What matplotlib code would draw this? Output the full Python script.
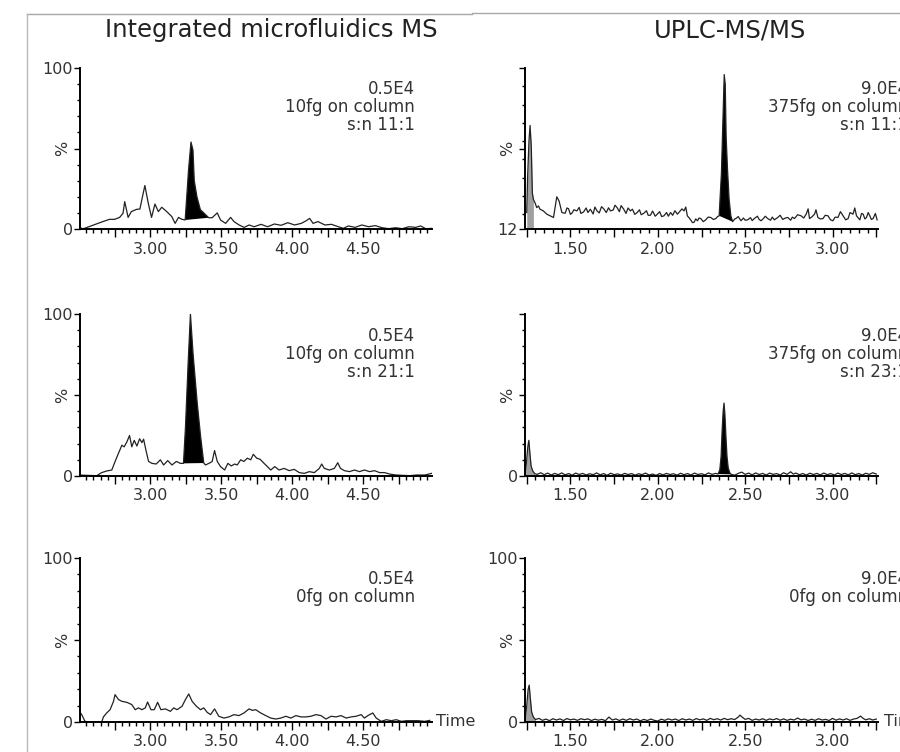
import matplotlib
matplotlib.use("Agg")
import matplotlib.pyplot as plt
from matplotlib.ticker import MultipleLocator, FixedLocator, FuncFormatter
from matplotlib.lines import Line2D

plt.rcParams['font.family'] = ['DejaVu Sans']

# ---- Integrated microfluidics MS (time in min, intensity in %) ----
mf_a_time = [2.500, 2.524, 2.666, 2.713, 2.749, 2.784, 2.808, 2.820, 2.844, 2.867, 2.903, 2.927,
             2.945, 2.962, 2.986, 3.009, 3.033, 3.057, 3.081, 3.116, 3.152, 3.175, 3.199, 3.223,
             3.246, 3.270, 3.287, 3.301, 3.310, 3.329, 3.353, 3.377, 3.412, 3.436, 3.472, 3.495,
             3.531, 3.566, 3.590, 3.626, 3.661, 3.697, 3.732, 3.780, 3.827, 3.874, 3.922, 3.969,
             4.017, 4.064, 4.100, 4.123, 4.147, 4.182, 4.230, 4.277, 4.325, 4.360, 4.396, 4.443,
             4.491, 4.538, 4.585, 4.633, 4.680, 4.728, 4.775, 4.822, 4.870, 4.905, 4.941, 4.988]
mf_a_int = [1.4, 0.0, 4.6, 6.0, 6.0, 7.2, 9.7, 17.0, 7.2, 10.8, 12.2, 12.4,
            20.0, 27.0, 16.0, 7.2, 15.5, 10.8, 13.5, 10.8, 7.7, 3.5, 7.2, 6.0,
            5.6, 37.0, 54.0, 49.0, 30.0, 20.0, 12.0, 10.0, 7.0, 7.0, 10.0, 5.6,
            3.5, 7.2, 4.6, 2.5, 1.0, 2.5, 1.4, 2.9, 1.4, 3.1, 2.3, 3.9,
            2.5, 3.5, 5.2, 6.6, 3.5, 4.6, 2.5, 2.9, 1.4, 0.4, 1.9, 1.0,
            2.5, 1.4, 2.1, 0.8, 0.2, 0.8, 0.2, 1.4, 1.0, 1.9, 0.2, 0.4]

mf_b_time = [2.500, 2.552, 2.623, 2.658, 2.693, 2.729, 2.752, 2.776, 2.800, 2.816, 2.835, 2.854,
             2.870, 2.887, 2.906, 2.925, 2.941, 2.953, 2.972, 2.988, 3.012, 3.042, 3.071, 3.094,
             3.123, 3.153, 3.184, 3.212, 3.234, 3.248, 3.267, 3.283, 3.302, 3.331, 3.354, 3.377,
             3.389, 3.413, 3.436, 3.453, 3.472, 3.495, 3.524, 3.547, 3.571, 3.594, 3.613, 3.637,
             3.660, 3.684, 3.708, 3.726, 3.750, 3.774, 3.802, 3.825, 3.849, 3.877, 3.908, 3.943,
             3.979, 4.014, 4.050, 4.085, 4.120, 4.156, 4.191, 4.208, 4.226, 4.262, 4.297, 4.321,
             4.340, 4.368, 4.403, 4.439, 4.474, 4.509, 4.545, 4.580, 4.616, 4.651, 4.686, 4.733,
             4.781, 4.828, 4.875, 4.934, 4.981]
mf_b_int = [0.6, 0.4, 0.2, 2.1, 3.1, 3.7, 8.9, 14.0, 19.0, 18.0, 21.0, 25.0,
            18.0, 22.0, 18.5, 23.0, 20.6, 22.7, 15.0, 9.0, 7.8, 7.4, 10.0, 6.8,
            9.5, 6.8, 9.0, 7.8, 7.8, 30.0, 70.0, 100.0, 75.0, 45.0, 25.0, 8.0,
            6.8, 7.8, 8.9, 15.7, 9.0, 5.8, 3.7, 7.8, 6.2, 7.4, 6.8, 10.0,
            9.0, 11.0, 10.0, 13.4, 11.0, 10.3, 7.8, 5.8, 3.7, 5.8, 3.7, 4.7,
            3.3, 4.1, 2.1, 1.6, 2.7, 2.1, 4.7, 7.4, 4.7, 3.7, 4.7, 8.2,
            4.7, 3.3, 2.7, 3.7, 2.7, 3.7, 2.7, 3.3, 2.1, 2.1, 1.2, 0.6,
            0.4, 0.2, 0.6, 0.6, 1.6]

mf_blank_time = [2.500, 2.517, 2.540, 2.575, 2.658, 2.670, 2.693, 2.717, 2.741, 2.752, 2.776, 2.800,
                 2.835, 2.870, 2.894, 2.917, 2.941, 2.965, 2.981, 3.005, 3.028, 3.052, 3.075, 3.106,
                 3.142, 3.165, 3.189, 3.224, 3.248, 3.271, 3.295, 3.325, 3.354, 3.377, 3.401, 3.425,
                 3.453, 3.483, 3.519, 3.554, 3.590, 3.625, 3.660, 3.696, 3.719, 3.743, 3.778, 3.814,
                 3.849, 3.884, 3.920, 3.955, 3.991, 4.026, 4.061, 4.097, 4.132, 4.167, 4.203, 4.238,
                 4.274, 4.309, 4.344, 4.380, 4.415, 4.450, 4.486, 4.509, 4.533, 4.568, 4.592, 4.627,
                 4.663, 4.698, 4.733, 4.769, 4.804, 4.840, 4.887, 4.934, 4.969]
mf_blank_int = [6.5, 4.5, 0.4, 0.0, 0.0, 3.1, 5.5, 7.5, 12.6, 16.7, 13.7, 12.6,
                12.0, 10.6, 7.5, 8.6, 7.5, 8.6, 12.2, 7.5, 7.5, 12.0, 7.5, 8.0,
                6.5, 8.6, 7.5, 9.6, 13.7, 17.1, 12.6, 9.6, 7.5, 8.6, 5.9, 4.5,
                8.0, 3.5, 2.4, 3.1, 4.5, 3.9, 5.5, 8.0, 7.1, 7.5, 5.5, 3.9,
                2.4, 1.8, 2.4, 3.5, 2.4, 3.9, 3.1, 3.1, 3.5, 4.5, 3.9, 1.8,
                3.5, 3.1, 3.9, 2.4, 3.1, 3.5, 4.5, 2.4, 3.9, 5.5, 2.4, 0.4,
                1.4, 0.8, 1.4, 0.4, 0.8, 0.8, 0.8, 0.4, 1.0]

# ---- UPLC-MS/MS ----
uplc_a_time = [1.250, 1.255, 1.263, 1.269, 1.276, 1.282, 1.288, 1.297, 1.307, 1.317, 1.326, 1.345,
               1.365, 1.384, 1.403, 1.422, 1.435, 1.451, 1.470, 1.480, 1.489, 1.500, 1.508, 1.520,
               1.537, 1.550, 1.560, 1.575, 1.590, 1.600, 1.614, 1.630, 1.640, 1.652, 1.665, 1.678,
               1.690, 1.705, 1.718, 1.729, 1.745, 1.755, 1.767, 1.780, 1.790, 1.805, 1.818, 1.830,
               1.843, 1.855, 1.868, 1.882, 1.895, 1.905, 1.920, 1.935, 1.945, 1.958, 1.970, 1.985,
               1.997, 2.010, 2.022, 2.035, 2.050, 2.060, 2.073, 2.085, 2.098, 2.112, 2.125, 2.138,
               2.150, 2.160, 2.169, 2.180, 2.188, 2.198, 2.207, 2.217, 2.227, 2.236, 2.246, 2.260,
               2.274, 2.288, 2.303, 2.318, 2.332, 2.342, 2.351, 2.364, 2.374, 2.380, 2.386, 2.391,
               2.399, 2.408, 2.418, 2.428, 2.440, 2.447, 2.460, 2.476, 2.490, 2.500, 2.514, 2.530,
               2.540, 2.552, 2.570, 2.580, 2.591, 2.605, 2.615, 2.629, 2.645, 2.655, 2.667, 2.685,
               2.700, 2.715, 2.730, 2.744, 2.760, 2.770, 2.782, 2.800, 2.820, 2.835, 2.849, 2.860,
               2.868, 2.880, 2.897, 2.905, 2.916, 2.930, 2.945, 2.958, 2.974, 2.988, 3.002, 3.015,
               3.031, 3.045, 3.060, 3.075, 3.089, 3.100, 3.117, 3.127, 3.137, 3.147, 3.156, 3.166,
               3.175, 3.185, 3.194, 3.204, 3.213, 3.222, 3.232, 3.245, 3.255]
uplc_a_int = [21.0, 40.7, 60.5, 68.6, 56.9, 31.7, 28.2, 26.4, 23.7, 24.6, 22.8, 21.9,
              20.1, 19.2, 18.3, 29.6, 27.3, 21.0, 20.6, 23.5, 23.1, 20.0, 20.6, 22.5,
              21.9, 23.8, 20.5, 21.3, 23.5, 21.0, 22.8, 20.2, 24.0, 21.9, 20.8, 24.2,
              23.1, 21.0, 23.6, 21.9, 22.4, 25.0, 23.7, 21.5, 24.8, 22.8, 20.5, 23.5,
              21.9, 22.8, 20.0, 21.0, 22.5, 19.8, 20.6, 22.0, 19.5, 19.5, 21.8, 19.0,
              20.1, 21.5, 18.8, 19.2, 21.0, 19.0, 21.0, 19.5, 22.0, 20.1, 21.5, 23.0,
              21.9, 24.0, 19.2, 18.0, 17.0, 15.5, 15.6, 17.5, 16.5, 18.0, 17.7, 16.0,
              17.0, 18.5, 18.3, 17.2, 17.7, 18.8, 19.2, 42.5, 76.6, 96.4, 91.0, 62.3,
              44.3, 28.2, 19.2, 16.0, 17.5, 17.7, 18.8, 16.5, 18.0, 16.8, 17.0, 18.2,
              16.6, 17.7, 19.0, 17.2, 16.5, 17.8, 19.0, 17.7, 16.8, 18.5, 17.0, 18.2,
              19.5, 17.2, 18.0, 18.3, 16.8, 18.5, 17.7, 19.8, 19.2, 18.0, 20.1, 23.0,
              17.7, 18.5, 20.1, 22.5, 18.3, 17.5, 17.7, 19.5, 19.2, 17.0, 16.5, 18.5,
              18.3, 21.5, 19.2, 17.0, 17.7, 21.0, 20.1, 23.5, 19.2, 18.0, 17.0, 20.5,
              20.1, 17.5, 18.3, 21.0, 19.2, 17.2, 17.7, 20.5, 17.0]

uplc_b_time = [1.240, 1.248, 1.256, 1.262, 1.268, 1.275, 1.285, 1.295, 1.310, 1.330, 1.350, 1.370,
               1.390, 1.410, 1.430, 1.450, 1.470, 1.490, 1.510, 1.530, 1.550, 1.570, 1.590, 1.610,
               1.630, 1.650, 1.670, 1.690, 1.710, 1.730, 1.750, 1.770, 1.790, 1.810, 1.830, 1.850,
               1.870, 1.890, 1.910, 1.930, 1.950, 1.970, 1.990, 2.010, 2.030, 2.050, 2.070, 2.090,
               2.110, 2.130, 2.150, 2.170, 2.190, 2.210, 2.230, 2.250, 2.270, 2.290, 2.310, 2.330,
               2.345, 2.355, 2.362, 2.368, 2.374, 2.379, 2.384, 2.390, 2.396, 2.403, 2.412, 2.420,
               2.440, 2.460, 2.480, 2.500, 2.520, 2.540, 2.560, 2.580, 2.600, 2.620, 2.640, 2.660,
               2.680, 2.700, 2.720, 2.740, 2.760, 2.775, 2.790, 2.810, 2.830, 2.850, 2.870, 2.890,
               2.910, 2.930, 2.950, 2.970, 2.990, 3.010, 3.030, 3.050, 3.070, 3.090, 3.110, 3.130,
               3.150, 3.170, 3.190, 3.210, 3.230, 3.250]
uplc_b_int = [1.0, 8.0, 18.0, 22.0, 14.0, 6.0, 3.0, 1.5, 1.0, 2.0, 0.8, 1.8,
              0.6, 1.6, 0.8, 1.9, 0.7, 1.5, 0.5, 1.8, 0.9, 1.6, 0.6, 1.4,
              0.8, 1.9, 0.7, 1.5, 0.4, 1.7, 0.8, 1.3, 0.6, 1.6, 0.9, 1.5,
              0.5, 1.4, 0.8, 1.8, 0.6, 1.2, 0.4, 1.5, 0.7, 1.6, 0.9, 1.4,
              0.5, 1.7, 0.8, 1.5, 0.6, 1.8, 0.9, 1.4, 0.7, 1.9, 1.0, 1.6,
              1.2, 4.0, 12.0, 28.0, 40.0, 45.0, 38.0, 24.0, 12.0, 5.0, 2.0, 1.0,
              0.5, 1.6, 2.4, 1.0, 1.8, 0.7, 1.9, 0.9, 1.6, 0.6, 1.8, 1.0,
              1.5, 0.6, 2.0, 1.0, 2.6, 1.2, 1.8, 0.8, 1.5, 0.6, 1.7, 0.9,
              1.6, 0.7, 1.8, 0.8, 1.5, 0.6, 1.8, 0.9, 1.6, 0.7, 1.9, 0.8,
              1.5, 0.6, 1.7, 1.0, 2.0, 1.2]

uplc_blank_time = [1.240, 1.250, 1.258, 1.264, 1.270, 1.278, 1.288, 1.300, 1.320, 1.340, 1.360, 1.380,
                   1.400, 1.420, 1.440, 1.460, 1.480, 1.500, 1.520, 1.540, 1.560, 1.580, 1.600, 1.620,
                   1.640, 1.660, 1.680, 1.700, 1.720, 1.740, 1.760, 1.780, 1.800, 1.820, 1.840, 1.860,
                   1.880, 1.900, 1.920, 1.940, 1.960, 1.980, 2.000, 2.020, 2.040, 2.060, 2.080, 2.100,
                   2.120, 2.140, 2.160, 2.180, 2.200, 2.220, 2.240, 2.260, 2.280, 2.300, 2.320, 2.340,
                   2.360, 2.380, 2.400, 2.420, 2.440, 2.460, 2.470, 2.485, 2.500, 2.520, 2.540, 2.560,
                   2.580, 2.600, 2.620, 2.640, 2.660, 2.680, 2.700, 2.720, 2.740, 2.760, 2.780, 2.800,
                   2.820, 2.840, 2.860, 2.880, 2.900, 2.920, 2.940, 2.960, 2.980, 3.000, 3.020, 3.040,
                   3.060, 3.080, 3.100, 3.120, 3.140, 3.160, 3.175, 3.190, 3.210, 3.230, 3.250]
uplc_blank_int = [1.0, 10.0, 20.0, 22.5, 15.0, 6.0, 3.0, 1.5, 2.2, 1.0, 1.8, 0.8,
                  2.0, 1.2, 1.9, 0.9, 2.1, 1.3, 1.8, 1.0, 2.0, 1.4, 1.9, 0.9,
                  1.7, 1.1, 1.6, 0.8, 3.0, 1.2, 1.9, 0.9, 1.8, 1.0, 2.0, 1.2,
                  1.8, 0.7, 1.6, 0.9, 1.8, 1.0, 0.6, 1.7, 1.0, 1.9, 1.2, 1.8,
                  0.9, 2.0, 1.2, 1.8, 1.0, 2.1, 1.3, 1.9, 1.0, 2.2, 1.4, 2.0,
                  1.2, 2.2, 1.4, 2.0, 1.5, 3.0, 4.2, 2.8, 1.6, 2.2, 1.0, 1.8,
                  1.2, 2.0, 1.0, 1.9, 1.3, 2.1, 1.1, 1.9, 1.0, 1.7, 1.2, 2.4,
                  1.3, 1.8, 0.9, 1.7, 1.0, 2.0, 1.2, 1.6, 0.9, 2.2, 1.1, 1.9,
                  1.2, 2.0, 1.0, 1.8, 2.2, 3.6, 2.2, 1.3, 2.0, 1.2, 1.8]

W, H = 900, 752
fig = plt.figure(figsize=(W / 100, H / 100), dpi=100)
fig.patch.set_facecolor('white')

TXT = '#333333'
LINE = '#222222'


def px_rect(x0, y0, x1, y1):
    return [x0 / W, 1 - y1 / H, (x1 - x0) / W, (y1 - y0) / H]


def x_label(v, pos):
    if abs(v * 2 - round(v * 2)) < 1e-6:
        return f'{v:.2f}'
    return ''


def panel(rect, t, y, xlim, ylim, ylabels, note, note_x, peak=None, spike=None):
    ax = fig.add_axes(rect)
    if spike:
        seg = [(a, b) for a, b in zip(t, y) if spike[0] <= a <= spike[1]]
        ax.fill_between([s[0] for s in seg], [s[1] for s in seg], ylim[0], color='#a0a0a0', lw=0)
    if peak:
        seg = [(a, b) for a, b in zip(t, y) if peak[0] <= a <= peak[1]]
        ax.fill([s[0] for s in seg], [s[1] for s in seg], color='black', lw=0)
    ax.plot(t, y, color=LINE, lw=0.9)
    ax.set_xlim(*xlim)
    ax.set_ylim(*ylim)
    for s in ['top', 'right']:
        ax.spines[s].set_visible(False)
    for s in ['left', 'bottom']:
        ax.spines[s].set_linewidth(1.4)
    ax.xaxis.set_major_locator(MultipleLocator(0.25))
    ax.xaxis.set_minor_locator(MultipleLocator(0.05))
    ax.xaxis.set_major_formatter(FuncFormatter(x_label))
    yt = [ylim[0], (ylim[0] + ylim[1]) / 2, ylim[1]]
    ax.yaxis.set_major_locator(FixedLocator(yt))
    ax.set_yticklabels(ylabels)
    ax.yaxis.set_minor_locator(FixedLocator([v for v in range(10, 100, 10) if v > ylim[0]]))
    ax.tick_params(axis='x', which='major', length=6, width=1, pad=3, labelsize=11.5, labelcolor=TXT)
    ax.tick_params(axis='x', which='minor', length=3, width=1)
    ax.tick_params(axis='y', which='major', length=4, width=1, pad=1, labelsize=11.5, labelcolor=TXT)
    ax.tick_params(axis='y', which='minor', length=2, width=1)
    ax.text(-0.05, 0.5, '%', transform=ax.transAxes, rotation=90, ha='center', va='center',
            fontsize=11.5, color=TXT)
    ax.annotate(note, xy=(note_x, 1.0), xycoords='axes fraction', xytext=(0, -9),
                textcoords='offset points', ha='right', va='top', fontsize=12,
                color=TXT, linespacing=1.0, annotation_clip=False)
    return ax


left_x = (80, 432)
right_x = (525, 878)
rows = [(68, 229), (314, 476), (558, 722)]
lx = (2.505, 4.985)
rx = (1.24, 3.26)

panel(px_rect(left_x[0], rows[0][0], left_x[1], rows[0][1]), mf_a_time, mf_a_int, lx, (0, 100),
      ['0', '', '100'], '0.5E4\n10fg on column\ns:n 11:1', 0.952, peak=(3.24, 3.42))
panel(px_rect(left_x[0], rows[1][0], left_x[1], rows[1][1]), mf_b_time, mf_b_int, lx, (0, 100),
      ['0', '', '100'], '0.5E4\n10fg on column\ns:n 21:1', 0.952, peak=(3.23, 3.38))
panel(px_rect(left_x[0], rows[2][0], left_x[1], rows[2][1]), mf_blank_time, mf_blank_int, lx, (0, 100),
      ['0', '', '100'], '0.5E4\n0fg on column', 0.952)

panel(px_rect(right_x[0], rows[0][0], right_x[1], rows[0][1]), uplc_a_time, uplc_a_int, rx, (12, 100),
      ['12', '', ''], '9.0E4\n375fg on column\ns:n 11:1', 1.085, peak=(2.35, 2.43), spike=(1.25, 1.29))
panel(px_rect(right_x[0], rows[1][0], right_x[1], rows[1][1]), uplc_b_time, uplc_b_int, rx, (0, 100),
      ['0', '', ''], '9.0E4\n375fg on column\ns:n 23:1', 1.085, peak=(2.345, 2.42), spike=(1.24, 1.30))
panel(px_rect(right_x[0], rows[2][0], right_x[1], rows[2][1]), uplc_blank_time, uplc_blank_int, rx, (0, 100),
      ['0', '', '100'], '9.0E4\n0fg on column', 1.085, spike=(1.24, 1.30))

# column titles
fig.text(271 / W, 1 - 30 / H, 'Integrated microfluidics MS', ha='center', va='center',
         fontsize=17.5, color='#222222')
fig.text(730 / W, 1 - 30 / H, 'UPLC-MS/MS', ha='center', va='center', fontsize=17.5, color='#222222')

# "Time" axis labels on the bottom row
fig.text(436 / W, 1 - 722 / H, 'Time', ha='left', va='center', fontsize=11.5, color=TXT)
fig.text(884 / W, 1 - 722 / H, 'Time', ha='left', va='center', fontsize=11.5, color=TXT)

# thin frame lines of the original screenshot
fig.add_artist(Line2D([27 / W, 472 / W], [1 - 14 / H, 1 - 14 / H], color='#a8a8a8', lw=1))
fig.add_artist(Line2D([472 / W, 1.0], [1 - 13 / H, 1 - 13 / H], color='#a8a8a8', lw=1))
fig.add_artist(Line2D([27 / W, 27 / W], [0, 1 - 14 / H], color='#b8b8b8', lw=1))

fig.savefig('out.png', dpi=100, facecolor='white')
